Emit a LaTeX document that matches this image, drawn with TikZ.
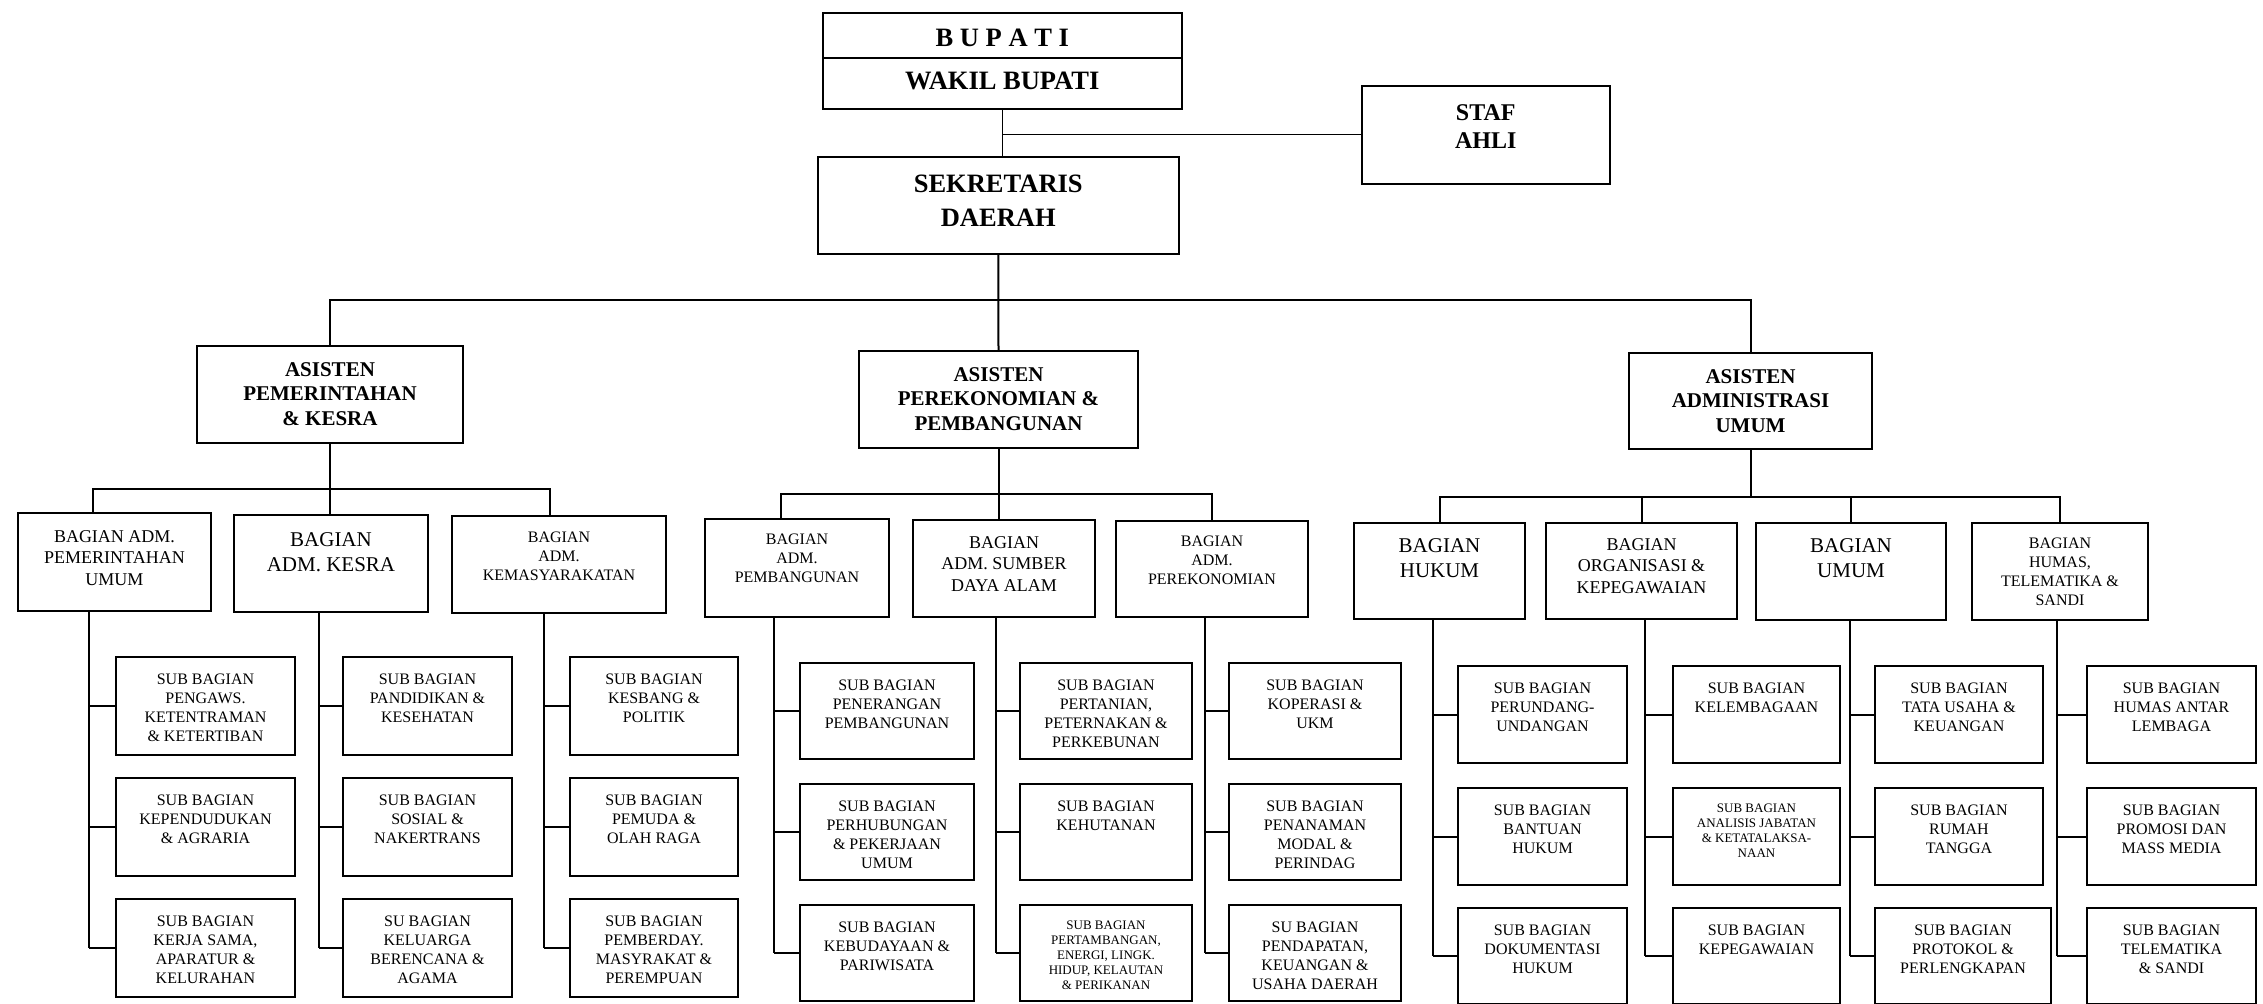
\documentclass[tikz,border=0pt]{standalone}
\usepackage{fontspec}
\setmainfont{Liberation Serif}
\begin{document}
\begin{tikzpicture}[x=1pt,y=-1pt,
	unit/.style n args={3}{draw,line width=2pt,inner sep=0pt,anchor=north west,
		execute at begin node={\begin{minipage}[t][#2pt][t]{#1pt}\centering\rule{0pt}{#3pt}},
		execute at end node={\end{minipage}}},
	topunit/.style={line width=1.5pt},
	ftop/.style={font=\fontsize{26.5}{34}\selectfont\bfseries},
	fstaf/.style={font=\fontsize{24}{28}\selectfont\bfseries},
	fhead/.style={font=\fontsize{21}{24.5}\selectfont\bfseries},
	fbagbig/.style={font=\fontsize{21}{25}\selectfont},
	fbag/.style={font=\fontsize{18}{21.5}\selectfont},
	fsub/.style={font=\fontsize{16}{19}\selectfont},
	fsubsm/.style={font=\fontsize{13}{15.2}\selectfont},
	link/.style={line width=2pt},
	thinlink/.style={line width=1.4pt}]
	\fill[white] (0,0) rectangle (2263,1004);
	\useasboundingbox (0,0) rectangle (2263,1004);

	\node[unit={359}{45}{34},topunit,ftop] (bupati) at (822,12) {B U P A T I};
	\node[unit={359}{51}{32},topunit,ftop] (wakil) at (822,57) {WAKIL BUPATI};
	\node[unit={361}{97}{36},topunit,ftop] (sekda) at (817,156) {SEKRETARIS\\DAERAH};
	\node[unit={248}{98}{35},topunit,fstaf] (staf) at (1361,85) {STAF\\AHLI};

	\node[unit={266}{97}{30},fhead] (asPem) at (196,345) {ASISTEN\\PEMERINTAHAN\\\& KESRA};
	\node[unit={279}{97}{30},fhead] (asPer) at (858,350) {ASISTEN\\PEREKONOMIAN \&\\PEMBANGUNAN};
	\node[unit={243}{96}{30},fhead] (asAdm) at (1628,352) {ASISTEN\\ADMINISTRASI\\UMUM};

	\node[unit={193}{98}{29},fbag] (pum) at (17,512) {BAGIAN ADM.\\PEMERINTAHAN\\UMUM};
	\node[unit={194}{97}{31},fbagbig] (kesra) at (233,514) {BAGIAN\\ADM. KESRA};
	\node[unit={214}{97}{26},fsub] (kemas) at (451,515) {BAGIAN\\ADM.\\KEMASYARAKATAN};
	\node[unit={184}{98}{25.5},fsub] (pemb) at (704,518) {BAGIAN\\ADM.\\PEMBANGUNAN};
	\node[unit={182}{97}{28},fbag] (sda) at (912,519) {BAGIAN\\ADM. SUMBER\\DAYA ALAM};
	\node[unit={192}{96}{25.5},fsub] (perek) at (1115,520) {BAGIAN\\ADM.\\PEREKONOMIAN};
	\node[unit={171}{96}{29},fbagbig] (hukum) at (1353,522) {BAGIAN\\HUKUM};
	\node[unit={191}{96}{27},fbag] (org) at (1545,522) {BAGIAN\\ORGANISASI \&\\KEPEGAWAIAN};
	\node[unit={190}{97}{29},fbagbig] (umum) at (1755,522) {BAGIAN\\UMUM};
	\node[unit={176}{97}{25.5},fsub] (humas) at (1971,522) {BAGIAN\\HUMAS,\\TELEMATIKA \&\\SANDI};

	\node[unit={179}{98}{27},fsub] (pum1) at (115,656) {SUB BAGIAN\\PENGAWS.\\KETENTRAMAN\\\& KETERTIBAN};
	\node[unit={179}{98}{27},fsub] (pum2) at (115,777) {SUB BAGIAN\\KEPENDUDUKAN\\\& AGRARIA};
	\node[unit={179}{98}{27},fsub] (pum3) at (115,898) {SUB BAGIAN\\KERJA SAMA,\\APARATUR \&\\KELURAHAN};
	\node[unit={169}{98}{27},fsub] (kesra1) at (342,656) {SUB BAGIAN\\PANDIDIKAN \&\\KESEHATAN};
	\node[unit={169}{98}{27},fsub] (kesra2) at (342,777) {SUB BAGIAN\\SOSIAL \&\\NAKERTRANS};
	\node[unit={169}{98}{27},fsub] (kesra3) at (342,898) {SU BAGIAN\\KELUARGA\\BERENCANA \&\\AGAMA};
	\node[unit={168}{98}{27},fsub] (kemas1) at (569,656) {SUB BAGIAN\\KESBANG \&\\POLITIK};
	\node[unit={168}{98}{27},fsub] (kemas2) at (569,777) {SUB BAGIAN\\PEMUDA \&\\OLAH RAGA};
	\node[unit={168}{98}{27},fsub] (kemas3) at (569,898) {SUB BAGIAN\\PEMBERDAY.\\MASYRAKAT \&\\PEREMPUAN};

	\node[unit={174}{96}{27},fsub] (pemb1) at (799,662) {SUB BAGIAN\\PENERANGAN\\PEMBANGUNAN};
	\node[unit={174}{96}{27},fsub] (pemb2) at (799,783) {SUB BAGIAN\\PERHUBUNGAN\\\& PEKERJAAN\\UMUM};
	\node[unit={174}{96}{27},fsub] (pemb3) at (799,904) {SUB BAGIAN\\KEBUDAYAAN \&\\PARIWISATA};
	\node[unit={172}{96}{27},fsub] (sda1) at (1019,662) {SUB BAGIAN\\PERTANIAN,\\PETERNAKAN \&\\PERKEBUNAN};
	\node[unit={172}{96}{27},fsub] (sda2) at (1019,783) {SUB BAGIAN\\KEHUTANAN};
	\node[unit={172}{96}{24},fsubsm] (sda3) at (1019,904) {SUB BAGIAN\\PERTAMBANGAN,\\ENERGI, LINGK.\\HIDUP, KELAUTAN\\\& PERIKANAN};
	\node[unit={172}{96}{27},fsub] (perek1) at (1228,662) {SUB BAGIAN\\KOPERASI \&\\UKM};
	\node[unit={172}{96}{27},fsub] (perek2) at (1228,783) {SUB BAGIAN\\PENANAMAN\\MODAL \&\\PERINDAG};
	\node[unit={172}{96}{27},fsub] (perek3) at (1228,904) {SU BAGIAN\\PENDAPATAN,\\KEUANGAN \&\\USAHA DAERAH};

	\node[unit={169}{97}{27},fsub] (hukum1) at (1457,665) {SUB BAGIAN\\PERUNDANG-\\UNDANGAN};
	\node[unit={169}{97}{27},fsub] (hukum2) at (1457,787) {SUB BAGIAN\\BANTUAN\\HUKUM};
	\node[unit={169}{96}{27},fsub] (hukum3) at (1457,907) {SUB BAGIAN\\DOKUMENTASI\\HUKUM};
	\node[unit={167}{97}{27},fsub] (org1) at (1672,665) {SUB BAGIAN\\KELEMBAGAAN};
	\node[unit={167}{97}{24},fsubsm] (org2) at (1672,787) {SUB BAGIAN\\ANALISIS JABATAN\\\& KETATALAKSA-\\NAAN};
	\node[unit={167}{96}{27},fsub] (org3) at (1672,907) {SUB BAGIAN\\KEPEGAWAIAN};
	\node[unit={168}{97}{27},fsub] (umum1) at (1874,665) {SUB BAGIAN\\TATA USAHA \&\\KEUANGAN};
	\node[unit={168}{97}{27},fsub] (umum2) at (1874,787) {SUB BAGIAN\\RUMAH\\TANGGA};
	\node[unit={176}{96}{27},fsub] (umum3) at (1874,907) {SUB BAGIAN\\PROTOKOL \&\\PERLENGKAPAN};
	\node[unit={169}{97}{27},fsub] (humas1) at (2086,665) {SUB BAGIAN\\HUMAS ANTAR\\LEMBAGA};
	\node[unit={169}{97}{27},fsub] (humas2) at (2086,787) {SUB BAGIAN\\PROMOSI DAN\\MASS MEDIA};
	\node[unit={169}{96}{27},fsub] (humas3) at (2086,907) {SUB BAGIAN\\TELEMATIKA\\\& SANDI};

	\coordinate (bus0) at (0,300);
	\coordinate (busP) at (0,489);
	\coordinate (busE) at (0,494);
	\coordinate (busA) at (0,497);
	\coordinate (tpum) at (89,0);
	\coordinate (tkesra) at (319,0);
	\coordinate (tkemas) at (544,0);
	\coordinate (tpemb) at (774,0);
	\coordinate (tsda) at (996,0);
	\coordinate (tperek) at (1205,0);
	\coordinate (thukum) at (1433,0);
	\coordinate (torg) at (1645,0);
	\coordinate (tumum) at (1850,0);
	\coordinate (thumas) at (2057,0);

	\draw[thinlink] (wakil.south) -- (wakil.south |- sekda.north);
	\draw[thinlink] (wakil.south |- staf.west) -- (staf.west);
	\draw[link] (sekda.south) -- (asPer.north);
	\draw[link] (asPem.north) -- (asPem.north |- bus0) -- (asAdm.north |- bus0) -- (asAdm.north);

	\draw[link] (asPem.south) -- (asPem.south |- kesra.north);
	\draw[link] ([xshift=-21.5pt]pum.north) -- ([xshift=-21.5pt]pum.north |- busP) -- ([xshift=-9pt]kemas.north |- busP) -- ([xshift=-9pt]kemas.north);
	\draw[link] (asPer.south) -- (asPer.south |- sda.north);
	\draw[link] ([xshift=-16pt]pemb.north) -- ([xshift=-16pt]pemb.north |- busE) -- (perek.north |- busE) -- (perek.north);
	\draw[link] (asAdm.south) -- (asAdm.south |- busA);
	\draw[link] (hukum.north) -- (hukum.north |- busA) -- (humas.north |- busA) -- (humas.north);
	\draw[link] (org.north) -- (org.north |- busA);
	\draw[link] (umum.north) -- (umum.north |- busA);

	\foreach \col in {pum,kesra,kemas,pemb,sda,perek,hukum,org,umum,humas}{
		\draw[link] (t\col |- \col.south) -- (t\col |- \col3.west);
		\foreach \r in {1,2,3}
			\draw[link] (t\col |- \col\r.west) -- (\col\r.west);
	}
\end{tikzpicture}
\end{document}
